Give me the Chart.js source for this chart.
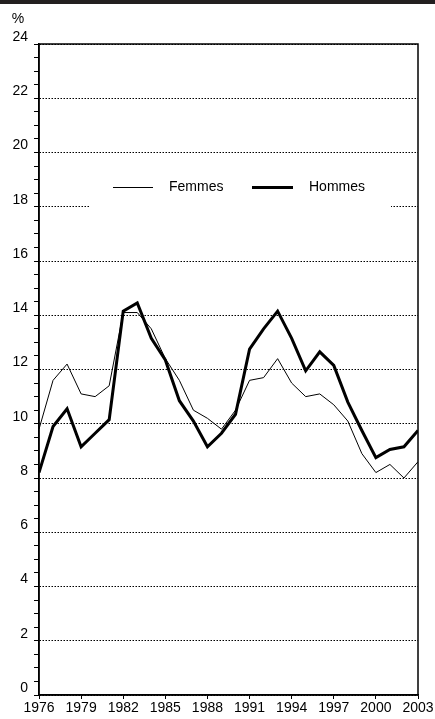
<!DOCTYPE html>
<html>
<head>
<meta charset="utf-8">
<script src="https://cdn.jsdelivr.net/npm/chart.js@4"></script>
<style>
html, body { margin: 0; padding: 0; background: #fff; }
#wrap { position: relative; width: 435px; height: 719px; }
#bar { position: absolute; left: 0; top: 0; width: 435px; height: 4px; background: #231f20; }
</style>
</head>
<body>
<div id="wrap"><canvas id="c" width="435" height="719"></canvas><div id="bar"></div></div>
<script>
var years = [1976, 1977, 1978, 1979, 1980, 1981, 1982, 1983, 1984, 1985, 1986, 1987, 1988, 1989,
             1990, 1991, 1992, 1993, 1994, 1995, 1996, 1997, 1998, 1999, 2000, 2001, 2002, 2003];
var femmes = [9.8, 11.6, 12.2, 11.1, 11.0, 11.4, 14.1, 14.1, 13.5, 12.4, 11.6, 10.5, 10.2, 9.8,
              10.5, 11.6, 11.7, 12.4, 11.5, 11.0, 11.1, 10.7, 10.1, 8.9, 8.2, 8.5, 8.0, 8.6];
var hommes = [8.2, 9.9, 10.55, 9.15, 9.65, 10.15, 14.15, 14.45, 13.15, 12.35, 10.85, 10.1, 9.15, 9.65,
              10.35, 12.75, 13.5, 14.15, 13.15, 11.95, 12.65, 12.15, 10.8, 9.75, 8.75, 9.05, 9.15, 9.75];
var xTicks = [1976, 1979, 1982, 1985, 1988, 1991, 1994, 1997, 2000, 2003];
var yLabels = [0, 2, 4, 6, 8, 10, 12, 14, 16, 18, 20, 22, 24];

Chart.defaults.font.family = '"Liberation Sans", Arial, sans-serif';
Chart.defaults.font.size = 14;
Chart.defaults.color = '#000';

function points(vals) {
    var i, out = [];
    for (i = 0; i < years.length; i += 1) {
        out.push({ x: years[i], y: vals[i] });
    }
    return out;
}

function isLabel(v) {
    return yLabels.indexOf(v) !== -1;
}

var decor = {
    id: 'decor',
    beforeDatasetsDraw: function (chart) {
        var ctx = chart.ctx, a = chart.chartArea;
        var ds = chart.data.datasets;
        var ly = 187.5;
        ctx.save();
        // legend box hides the grid line behind it
        ctx.fillStyle = '#fff';
        ctx.fillRect(a.left + 51, 164, 301, 48);
        ctx.strokeStyle = '#000';
        ctx.lineWidth = ds[0].borderWidth;
        ctx.beginPath();
        ctx.moveTo(a.left + 74, ly);
        ctx.lineTo(a.left + 114, ly);
        ctx.stroke();
        ctx.lineWidth = ds[1].borderWidth;
        ctx.beginPath();
        ctx.moveTo(a.left + 213, ly);
        ctx.lineTo(a.left + 254, ly);
        ctx.stroke();
        ctx.fillStyle = '#000';
        ctx.font = '14px "Liberation Sans", Arial, sans-serif';
        ctx.textBaseline = 'middle';
        ctx.textAlign = 'left';
        ctx.fillText(ds[0].label, a.left + 130, ly);
        ctx.fillText(ds[1].label, a.left + 270, ly);
        ctx.restore();
    },
    afterDraw: function (chart) {
        var ctx = chart.ctx, a = chart.chartArea;
        ctx.save();
        ctx.strokeStyle = '#000';
        ctx.lineWidth = 1.5;
        ctx.strokeRect(a.left, a.top, a.right - a.left, a.bottom - a.top);
        ctx.fillStyle = '#000';
        ctx.font = '14px "Liberation Sans", Arial, sans-serif';
        ctx.textAlign = 'center';
        ctx.textBaseline = 'middle';
        ctx.fillText('%', 18, 19);
        ctx.restore();
    }
};

new Chart(document.getElementById('c'), {
    type: 'line',
    data: {
        datasets: [{
            label: 'Femmes',
            data: points(femmes),
            borderColor: '#000',
            borderWidth: 1,
            pointRadius: 0,
            tension: 0,
            borderJoinStyle: 'miter'
        }, {
            label: 'Hommes',
            data: points(hommes),
            borderColor: '#000',
            borderWidth: 3,
            pointRadius: 0,
            tension: 0,
            borderJoinStyle: 'miter'
        }]
    },
    options: {
        responsive: false,
        devicePixelRatio: 1,
        animation: false,
        layout: { padding: { top: 44, right: 17, left: 0, bottom: 0 } },
        plugins: {
            legend: { display: false },
            tooltip: { enabled: false }
        },
        scales: {
            x: {
                type: 'linear',
                min: 1976,
                max: 2003,
                afterBuildTicks: function (scale) {
                    scale.ticks = xTicks.map(function (v) { return { value: v }; });
                },
                afterFit: function (scale) { scale.height = 24; },
                ticks: {
                    autoSkip: false,
                    maxRotation: 0,
                    padding: 1,
                    callback: function (v) { return String(v); }
                },
                grid: {
                    drawOnChartArea: false,
                    tickLength: 4,
                    tickColor: '#000',
                    tickWidth: 1
                },
                border: { color: '#000', width: 1.5 }
            },
            y: {
                min: 0,
                max: 24,
                afterFit: function (scale) { scale.width = 39; },
                ticks: {
                    stepSize: 0.5,
                    autoSkip: false,
                    padding: 6,
                    labelOffset: -7,
                    callback: function (v) { return isLabel(v) ? String(v) : ''; }
                },
                grid: {
                    color: function (c) {
                        return c.tick && isLabel(c.tick.value) ? '#000' : 'rgba(0,0,0,0)';
                    },
                    lineWidth: 1,
                    tickLength: 5,
                    tickColor: '#000',
                    tickWidth: 1
                },
                border: { color: '#000', width: 1.5, dash: [1.5, 1.5] }
            }
        }
    },
    plugins: [decor]
});
</script>
</body>
</html>
